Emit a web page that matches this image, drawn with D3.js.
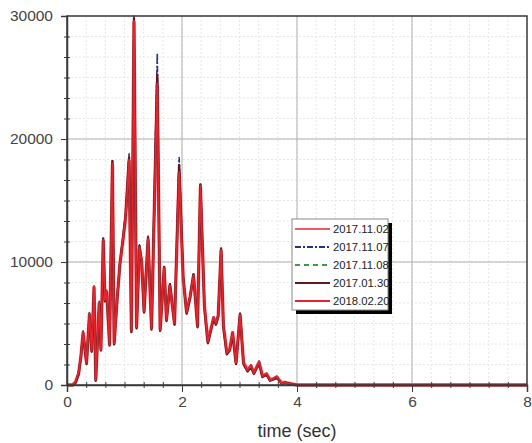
<!DOCTYPE html>
<html>
<head>
<meta charset="utf-8">
<script src="https://cdn.jsdelivr.net/npm/d3@7"></script>
<style>
  body { margin: 0; background: #fff; }
  text { font-family: "Liberation Sans", Arial, sans-serif; }
</style>
</head>
<body>
<svg id="chart" width="532" height="443"></svg>
<script>
// time axis shared by every record (seconds)
const timeSec = [0, 0.10, 0.15, 0.20, 0.24, 0.28, 0.34, 0.39, 0.43, 0.47, 0.50, 0.56, 0.59, 0.63, 0.66, 0.69, 0.74,
  0.79, 0.82, 0.87, 0.92, 0.98, 1.02, 1.08, 1.12, 1.165, 1.21, 1.26, 1.30, 1.34, 1.41, 1.47, 1.57, 1.62, 1.69,
  1.73, 1.79, 1.87, 1.95, 2.02, 2.08, 2.14, 2.20, 2.27, 2.32, 2.39, 2.45, 2.55, 2.59, 2.63, 2.68, 2.72, 2.78,
  2.83, 2.88, 2.94, 3.01, 3.07, 3.14, 3.20, 3.25, 3.34, 3.40, 3.47, 3.53, 3.59, 3.65, 3.73, 3.80, 3.90, 4.00,
  4.50, 5.00, 6.00, 7.00, 8.00];

const rec20171102 = [0, 0, 250, 900, 2250, 4250, 1850, 5750, 2850, 7950, 450, 6650, 2950, 11700, 6950, 7550, 3350,
  17900, 3450, 6850, 9850, 12000, 13600, 18200, 4450, 29500, 4750, 11100, 9950, 6050, 11800, 4650, 24400, 4550, 9450,
  5350, 8050, 5050, 17200, 8650, 5950, 7150, 8850, 4850, 16100, 6450, 3550, 5450, 5050, 5650, 10900, 4850, 2650,
  2950, 4250, 1850, 5650, 1850, 1250, 1550, 1000, 1850, 750, 900, 450, 500, 650, 200, 200, 100, 0,
  0, 0, 0, 0, 0];

const rec20171107 = [0, 0, 300, 1000, 2350, 4400, 1750, 5900, 2750, 8100, 350, 6800, 2850, 12000, 6850, 7700, 3250,
  18300, 3350, 7000, 10000, 12300, 13900, 18800, 4350, 30000, 4650, 11400, 10100, 5950, 12100, 4550, 27000, 4450, 9600,
  5250, 8200, 4950, 18500, 8800, 5850, 7250, 9000, 4750, 16400, 6350, 3450, 5550, 4950, 5750, 11100, 4750, 2550,
  2850, 4350, 1750, 5800, 1750, 1150, 1650, 900, 1950, 650, 1000, 350, 550, 700, 100, 250, 50, 0,
  0, 0, 0, 0, 0];

const rec20171108 = [0, 0, 280, 960, 2300, 4320, 1800, 5820, 2800, 8020, 400, 6720, 2900, 11850, 6900, 7620, 3300,
  18050, 3400, 6920, 9920, 12150, 13750, 18400, 4400, 29700, 4700, 11250, 10020, 6000, 11950, 4600, 24800, 4500, 9520,
  5300, 8120, 5000, 17500, 8720, 5900, 7200, 8920, 4800, 16250, 6400, 3500, 5500, 5000, 5700, 11020, 4800, 2600,
  2900, 4300, 1800, 5720, 1800, 1200, 1600, 950, 1900, 700, 950, 400, 500, 700, 150, 200, 80, 0,
  0, 0, 0, 0, 0];

const rec20170130 = [0, 0, 200, 850, 2200, 4200, 1700, 5700, 2700, 7900, 350, 6600, 2800, 11900, 6800, 7500, 3200,
  18200, 3300, 6800, 9800, 12100, 13800, 18500, 4300, 29800, 4600, 11300, 9900, 5900, 12000, 4500, 25200, 4400, 9600,
  5200, 8200, 4900, 17900, 8800, 5800, 7100, 9000, 4700, 16300, 6300, 3400, 5400, 4900, 5600, 11100, 4700, 2500,
  2800, 4200, 1700, 5800, 1700, 1100, 1500, 900, 1800, 650, 850, 350, 450, 600, 120, 180, 60, 0,
  0, 0, 0, 0, 0];

const rec20180220 = [0, 0, 300, 950, 2300, 4300, 1800, 5800, 2800, 8000, 400, 6700, 2900, 11800, 6900, 7600, 3300,
  18000, 3400, 6900, 9900, 12100, 13700, 18300, 4400, 29600, 4700, 11200, 10000, 6000, 11900, 4600, 24500, 4500, 9500,
  5300, 8100, 5000, 17300, 8700, 5900, 7200, 8900, 4800, 16200, 6400, 3500, 5500, 5000, 5700, 11000, 4800, 2600,
  2900, 4300, 1800, 5700, 1800, 1200, 1600, 950, 1900, 700, 950, 400, 500, 700, 150, 200, 80, 0,
  0, 0, 0, 0, 0];

const seriesNames = ['2017.11.02', '2017.11.07', '2017.11.08', '2017.01.30', '2018.02.20'];
const seriesValues = [rec20171102, rec20171107, rec20171108, rec20170130, rec20180220];

const xTicks = [0, 2, 4, 6, 8];
const yTicks = [0, 10000, 20000, 30000];

// styles per record
const strokes = ['#ee5a60', '#2b2f86', '#3c9a48', '#5e1a1e', '#e3262d'];
const widths = [3.4, 1.6, 1.4, 2.4, 1.8];
const dashes = [null, '6,2,2,2', '5,4', null, null];

const svg = d3.select('#chart');
const plotL = 67, plotR = 527, plotT = 16, plotB = 385;

const x = d3.scaleLinear().domain([0, 8]).range([plotL, plotR]);
const y = d3.scaleLinear().domain([0, 30000]).range([plotB, plotT]);

// minor grid (dotted, faint)
const xMinor = d3.range(0, 8.001, 1 / 3);
const yMinor = d3.range(0, 30001, 10000 / 6);

svg.append('g').selectAll('line')
  .data(xMinor).enter().append('line')
  .attr('x1', d => x(d)).attr('x2', d => x(d))
  .attr('y1', plotT).attr('y2', plotB)
  .attr('stroke', '#e6e6e6').attr('stroke-dasharray', '2,2');

svg.append('g').selectAll('line')
  .data(yMinor).enter().append('line')
  .attr('x1', plotL).attr('x2', plotR)
  .attr('y1', d => y(d)).attr('y2', d => y(d))
  .attr('stroke', '#e6e6e6').attr('stroke-dasharray', '2,2');

// major grid
svg.append('g').selectAll('line')
  .data(xTicks.slice(1, -1)).enter().append('line')
  .attr('x1', d => x(d)).attr('x2', d => x(d))
  .attr('y1', plotT).attr('y2', plotB)
  .attr('stroke', '#b0b0b0');

svg.append('g').selectAll('line')
  .data(yTicks.slice(1, -1)).enter().append('line')
  .attr('x1', plotL).attr('x2', plotR)
  .attr('y1', d => y(d)).attr('y2', d => y(d))
  .attr('stroke', '#b0b0b0');

// records
const line = d3.line()
  .x((d, i) => x(timeSec[i]))
  .y(d => y(d));

svg.append('g').selectAll('path')
  .data(seriesValues).enter().append('path')
  .attr('d', d => line(d))
  .attr('fill', 'none')
  .attr('stroke', (d, i) => strokes[i])
  .attr('stroke-width', (d, i) => widths[i])
  .attr('stroke-dasharray', (d, i) => dashes[i])
  .attr('stroke-linejoin', 'round');

// frame
svg.append('rect')
  .attr('x', plotL).attr('y', plotT)
  .attr('width', plotR - plotL).attr('height', plotB - plotT)
  .attr('fill', 'none').attr('stroke', '#3a3a3a').attr('stroke-width', 1.5);

// axes
const xAxis = svg.append('g')
  .attr('transform', `translate(0,${plotB})`)
  .call(d3.axisBottom(x).tickValues(xTicks).tickSize(7).tickPadding(4));

svg.append('g')
  .attr('transform', `translate(0,${plotB})`)
  .call(d3.axisBottom(x).tickValues(xMinor.filter((d, i) => i % 6 !== 0)).tickSize(3).tickFormat(''))
  .call(g => g.selectAll('.tick line').attr('y1', -3))
  .call(g => g.select('.domain').remove());

const yAxis = svg.append('g')
  .attr('transform', `translate(${plotL},0)`)
  .call(d3.axisLeft(y).tickValues(yTicks).tickSize(6).tickPadding(8).tickFormat(d3.format('d')));

svg.append('g')
  .attr('transform', `translate(${plotL},0)`)
  .call(d3.axisLeft(y).tickValues(yMinor.filter((d, i) => i % 6 !== 0)).tickSize(3).tickFormat(''))
  .call(g => g.selectAll('.tick line').attr('x1', 3))
  .call(g => g.select('.domain').remove());

svg.selectAll('.domain').attr('stroke', '#3a3a3a').attr('stroke-width', 1.5);
svg.selectAll('.tick line').attr('stroke', '#3a3a3a');
xAxis.selectAll('text').attr('font-size', 15.5).attr('fill', '#444');
yAxis.selectAll('text').attr('font-size', 15.5).attr('fill', '#444');

svg.append('text')
  .attr('x', (plotL + plotR) / 2).attr('y', 437)
  .attr('text-anchor', 'middle')
  .attr('font-size', 18).attr('fill', '#333')
  .text('time (sec)');

// legend with drop shadow
const lg = svg.append('g').attr('transform', 'translate(292,219)');
const lgW = 96, lgH = 91, rowH = 18;
lg.append('rect').attr('x', 4).attr('y', 4).attr('width', lgW).attr('height', lgH).attr('fill', '#000');
lg.append('rect').attr('width', lgW).attr('height', lgH).attr('fill', '#fff')
  .attr('stroke', '#8a8a8a').attr('stroke-width', 1);

const rows = lg.selectAll('g.row')
  .data(seriesNames).enter().append('g')
  .attr('transform', (d, i) => `translate(0,${10 + i * rowH})`);

rows.append('line')
  .attr('x1', 3).attr('x2', 38)
  .attr('stroke', (d, i) => strokes[i])
  .attr('stroke-width', 1.8)
  .attr('stroke-dasharray', (d, i) => dashes[i]);

rows.append('text')
  .attr('x', 41).attr('dy', '0.36em')
  .attr('font-size', 11.3).attr('fill', '#222')
  .text(d => d);
</script>
</body>
</html>
